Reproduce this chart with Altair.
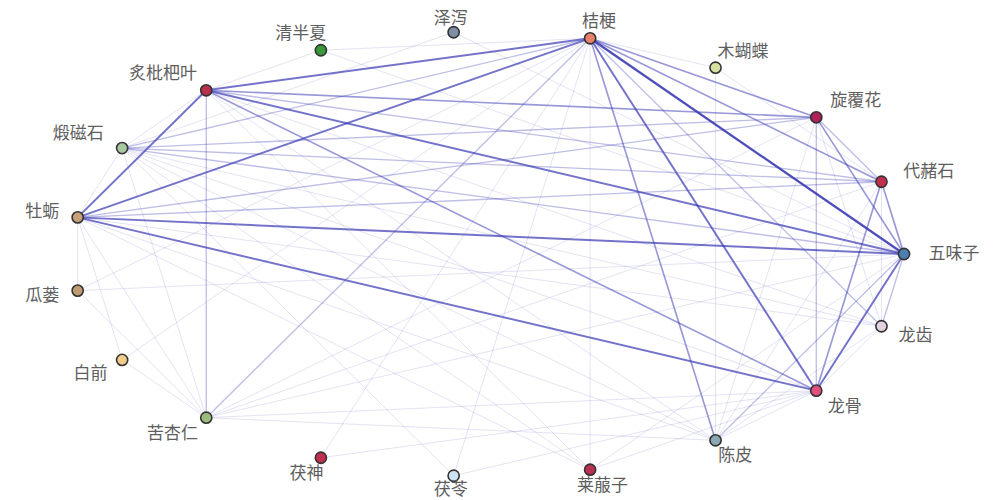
import math
import altair as alt
import pandas as pd

# ---------------- data ----------------
herbs = ["五味子", "代赭石", "旋覆花", "木蝴蝶", "桔梗", "泽泻", "清半夏", "炙枇杷叶",
         "煅磁石", "牡蛎", "瓜蒌", "白前", "苦杏仁", "茯神", "茯苓", "莱菔子",
         "陈皮", "龙骨", "龙齿"]
herb_colors = ["#4f7fb0", "#c0304e", "#b0205a", "#d6e0a0", "#e8806a", "#7f8ea6",
               "#3a9a3a", "#b8304a", "#a8c8a2", "#c8a078", "#c09a70", "#f2cc88",
               "#9cbc7c", "#c0304e", "#cfe4f2", "#b83050", "#8aa8b2", "#e0507e",
               "#e2d2e2"]

edge_source = [
    "桔梗", "桔梗", "炙枇杷叶", "炙枇杷叶", "牡蛎", "牡蛎", "牡蛎", "五味子", "桔梗",
    "桔梗", "桔梗", "桔梗", "炙枇杷叶", "炙枇杷叶", "炙枇杷叶", "炙枇杷叶", "五味子",
    "五味子", "龙骨", "龙骨", "煅磁石", "煅磁石", "煅磁石", "煅磁石", "牡蛎", "牡蛎",
    "五味子", "五味子", "苦杏仁", "苦杏仁", "苦杏仁", "旋覆花", "桔梗", "桔梗",
    "煅磁石", "煅磁石", "煅磁石", "煅磁石", "煅磁石", "煅磁石",
    "牡蛎", "牡蛎", "牡蛎", "牡蛎", "牡蛎",
    "炙枇杷叶", "炙枇杷叶", "炙枇杷叶", "炙枇杷叶",
    "苦杏仁", "苦杏仁", "苦杏仁", "苦杏仁", "苦杏仁",
    "陈皮", "陈皮", "陈皮", "陈皮", "陈皮",
    "龙骨", "龙骨", "龙骨",
    "莱菔子", "莱菔子", "莱菔子",
    "茯苓", "茯苓", "茯神", "茯神",
    "泽泻", "泽泻", "清半夏", "清半夏",
    "木蝴蝶", "木蝴蝶", "白前", "瓜蒌", "瓜蒌", "龙齿", "龙齿",
]
edge_target = [
    "五味子", "炙枇杷叶", "五味子", "牡蛎", "桔梗", "龙骨", "五味子", "龙骨", "龙骨",
    "陈皮", "旋覆花", "代赭石", "苦杏仁", "旋覆花", "代赭石", "龙骨", "旋覆花",
    "代赭石", "旋覆花", "代赭石", "五味子", "旋覆花", "代赭石", "桔梗", "旋覆花", "代赭石",
    "龙齿", "陈皮", "五味子", "龙骨", "桔梗", "代赭石", "龙齿", "莱菔子",
    "龙骨", "龙齿", "陈皮", "炙枇杷叶", "牡蛎", "苦杏仁",
    "陈皮", "龙齿", "苦杏仁", "瓜蒌", "白前",
    "陈皮", "龙齿", "莱菔子", "清半夏",
    "陈皮", "代赭石", "旋覆花", "白前", "瓜蒌",
    "旋覆花", "代赭石", "龙骨", "龙齿", "木蝴蝶",
    "龙齿", "莱菔子", "茯苓",
    "五味子", "煅磁石", "牡蛎",
    "桔梗", "煅磁石", "龙骨", "桔梗",
    "五味子", "煅磁石", "五味子", "桔梗",
    "桔梗", "代赭石", "桔梗", "桔梗", "五味子", "代赭石", "旋覆花",
]
edge_weight = [
    5, 4, 4, 4, 4, 4, 4, 4, 4,
    3, 3, 3, 2, 3, 2, 3, 3,
    3, 2, 3, 2, 2, 2, 2, 2, 2,
    2, 2, 1, 1, 2, 2, 2, 1,
    1, 1, 1, 1, 1, 1,
    1, 1, 1, 1, 1,
    1, 1, 1, 1,
    1, 1, 1, 1, 1,
    1, 1, 1, 1, 1,
    1, 1, 1,
    1, 1, 1,
    1, 1, 1, 1,
    1, 1, 1, 1,
    1, 1, 1, 1, 1, 1, 1,
]

# ---------------- circular layout (computed from node order) ----------------
n = len(herbs)
SX, SY = 416.0, 222.5  # pixels per layout unit
CY = 254.0
rows = []
for i, h in enumerate(herbs):
    t = 2 * math.pi * i / n
    c, s = math.cos(t), math.sin(t)
    ox = c * (len(h) * 14 + 8)
    oy = -max(-16.0, min(16.0, s * 30))
    py = CY - s * SY + oy
    py = max(19.0, min(490.0, py))
    rows.append({"herb": h, "x": c, "y": s,
                 "lx": c + ox / SX, "ly": (CY - py) / SY})
nodes = pd.DataFrame(rows)
pos = nodes.set_index("herb")

edges = pd.DataFrame({"source": edge_source, "target": edge_target, "weight": edge_weight})
edges["x"] = edges["source"].map(pos["x"])
edges["y"] = edges["source"].map(pos["y"])
edges["x2"] = edges["target"].map(pos["x"])
edges["y2"] = edges["target"].map(pos["y"])
edges = edges.sort_values("weight").reset_index(drop=True)

W, H = 985, 492
xd0 = (8 - 488) / SX
xd1 = xd0 + W / SX
yd1 = (CY - 8) / SY
yd0 = yd1 - H / SY
xs = alt.Scale(domain=[xd0, xd1], nice=False, zero=False)
ys = alt.Scale(domain=[yd0, yd1], nice=False, zero=False)

edge_layer = alt.Chart(edges).mark_rule(color="#3a3ab4").encode(
    x=alt.X("x:Q", scale=xs, axis=None),
    y=alt.Y("y:Q", scale=ys, axis=None),
    x2="x2:Q",
    y2="y2:Q",
    opacity=alt.Opacity("weight:Q", scale=alt.Scale(domain=[1, 5], range=[0.14, 0.9]), legend=None),
    strokeWidth=alt.StrokeWidth("weight:Q", scale=alt.Scale(domain=[1, 5], range=[1.0, 2.3]), legend=None),
)

node_layer = alt.Chart(nodes).mark_circle(size=125, opacity=1, stroke="#333333", strokeWidth=1.6).encode(
    x=alt.X("x:Q", scale=xs, axis=None),
    y=alt.Y("y:Q", scale=ys, axis=None),
    color=alt.Color("herb:N", scale=alt.Scale(domain=herbs, range=herb_colors), legend=None),
)

label_layer = alt.Chart(nodes).mark_text(
    font="Noto Sans CJK SC", fontSize=17, color="#5e5e5e", align="center", baseline="middle"
).encode(
    x=alt.X("lx:Q", scale=xs, axis=None),
    y=alt.Y("ly:Q", scale=ys, axis=None),
    text="herb:N",
)

chart = alt.layer(edge_layer, node_layer, label_layer).properties(
    width=W, height=H, padding=0, autosize="none", background="white"
).configure_view(stroke=None)

chart.save("out.html", embed_options={"renderer": "svg", "actions": False})
